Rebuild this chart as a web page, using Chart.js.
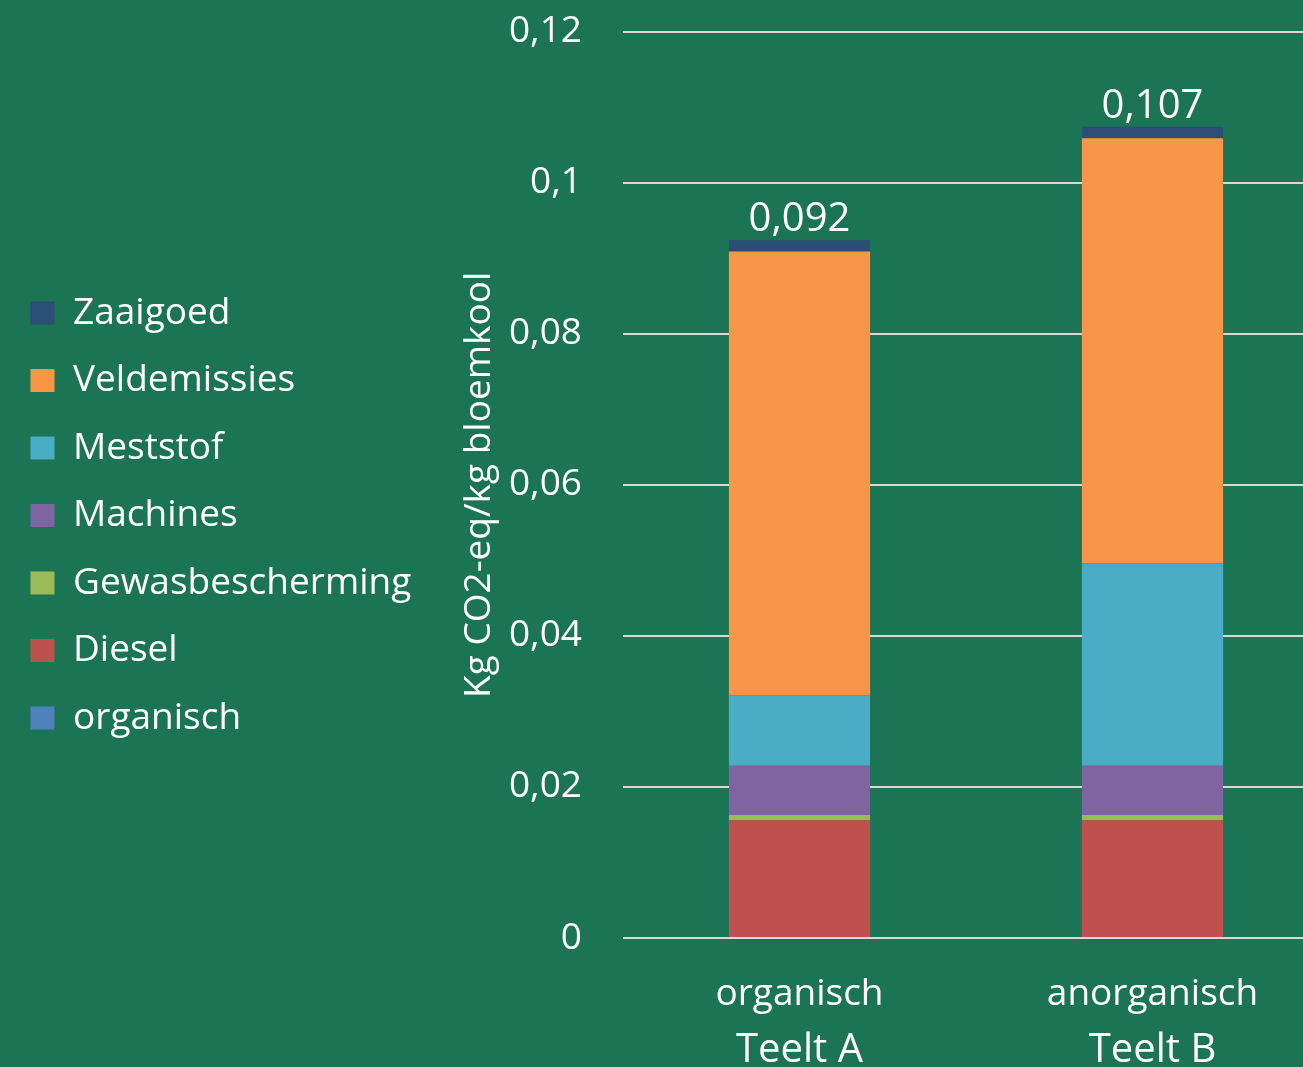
<!DOCTYPE html>
<html>
<head>
<meta charset="utf-8">
<script src="https://cdn.jsdelivr.net/npm/chart.js@4"></script>
<style>
  html, body { margin: 0; padding: 0; overflow: hidden; background: #1b7454; }
  #wrap { width: 1330px; height: 1080px; }
</style>
</head>
<body>
<div id="wrap"><canvas id="chart" width="1330" height="1080"></canvas></div>
<script>
// categories (two label rows under the bars)
const CATEGORIES = ['organisch', 'anorganisch'];
const GROUPS     = ['Teelt A', 'Teelt B'];

// kg CO2-eq per kg bloemkool, per source
const ORGANISCH        = [0, 0];
const DIESEL           = [0.0156, 0.0156];
const GEWASBESCHERMING = [0.0007, 0.0007];
const MACHINES         = [0.0065, 0.0065];
const MESTSTOF         = [0.0093, 0.0268];
const VELDEMISSIES     = [0.0588, 0.0563];
const ZAAIGOED         = [0.0015, 0.0015];

const Y_MIN = 0, Y_MAX = 0.12, Y_STEP = 0.02;

const comma = v => String(v).replace('.', ',');

Chart.defaults.font.family = "'Open Sans', sans-serif";
Chart.defaults.color = '#ffffff';

// totals above each stacked bar
const totalLabels = {
  id: 'totalLabels',
  afterDatasetsDraw(chart) {
    const { ctx, scales: { y } } = chart;
    const meta = chart.getDatasetMeta(chart.data.datasets.length - 1);
    ctx.save();
    ctx.font = "40px 'Open Sans'";
    ctx.fillStyle = '#ffffff';
    ctx.textAlign = 'center';
    ctx.textBaseline = 'alphabetic';
    CATEGORIES.forEach((_, i) => {
      const total = chart.data.datasets.reduce((s, d) => s + d.data[i], 0);
      ctx.fillText(comma(total.toFixed(3)), meta.data[i].x, y.getPixelForValue(total) - 9);
    });
    ctx.restore();
  }
};

const series = [
  ['organisch',        ORGANISCH,        '#4f81bd'],
  ['Diesel',           DIESEL,           '#c0504d'],
  ['Gewasbescherming', GEWASBESCHERMING, '#9bbb59'],
  ['Machines',         MACHINES,         '#8064a2'],
  ['Meststof',         MESTSTOF,         '#4bacc6'],
  ['Veldemissies',     VELDEMISSIES,     '#f79646'],
  ['Zaaigoed',         ZAAIGOED,         '#2c4d75']
];

new Chart(document.getElementById('chart'), {
  type: 'bar',
  data: {
    labels: CATEGORIES,
    datasets: series.map(([label, data, color]) => ({
      label,
      data,
      backgroundColor: color,
      borderWidth: 0,
      barPercentage: 0.4,
      categoryPercentage: 1
    }))
  },
  plugins: [totalLabels],
  options: {
    responsive: false,
    animation: false,
    layout: { padding: { left: 0, top: 2, right: 1, bottom: 3 } },
    plugins: {
      tooltip: { enabled: false },
      legend: {
        position: 'left',
        align: 'start',
        reverse: true,
        maxWidth: 460,
        title: { display: true, text: ' ', padding: { top: 250, bottom: 0 }, font: { size: 10 } },
        labels: {
          boxWidth: 24,
          boxHeight: 23,
          padding: 30.5,
          color: '#ffffff',
          font: { size: 37 }
        }
      }
    },
    scales: {
      x: {
        stacked: true,
        weight: 0,
        grid: { display: false },
        border: { display: false },
        ticks: { font: { size: 37 }, padding: 26, color: '#ffffff' },
        afterFit: s => { s.height = 79; }
      },
      x2: {
        type: 'category',
        labels: GROUPS,
        position: 'bottom',
        offset: true,
        weight: 1,
        grid: { display: false },
        border: { display: false },
        ticks: { font: { size: 40 }, padding: 2, color: '#ffffff' },
        afterFit: s => { s.height = 60; }
      },
      y: {
        stacked: true,
        min: Y_MIN,
        max: Y_MAX,
        border: { display: false },
        grid: { color: '#d9d9d9', lineWidth: 2, drawTicks: false },
        ticks: {
          stepSize: Y_STEP,
          padding: 41,
          color: '#ffffff',
          font: { size: 37 },
          callback: v => comma(+v.toFixed(2))
        },
        title: {
          display: true,
          text: 'Kg CO2-eq/kg bloemkool',
          color: '#ffffff',
          font: { size: 37 },
          padding: { top: 36, bottom: 4 }
        },
        afterFit: s => {
          s.width = 623 - (s.chart.legend ? s.chart.legend.width : 420);
          s.paddingTop = 31.7;
          s.paddingBottom = 0;
        }
      }
    }
  }
});
</script>
</body>
</html>
